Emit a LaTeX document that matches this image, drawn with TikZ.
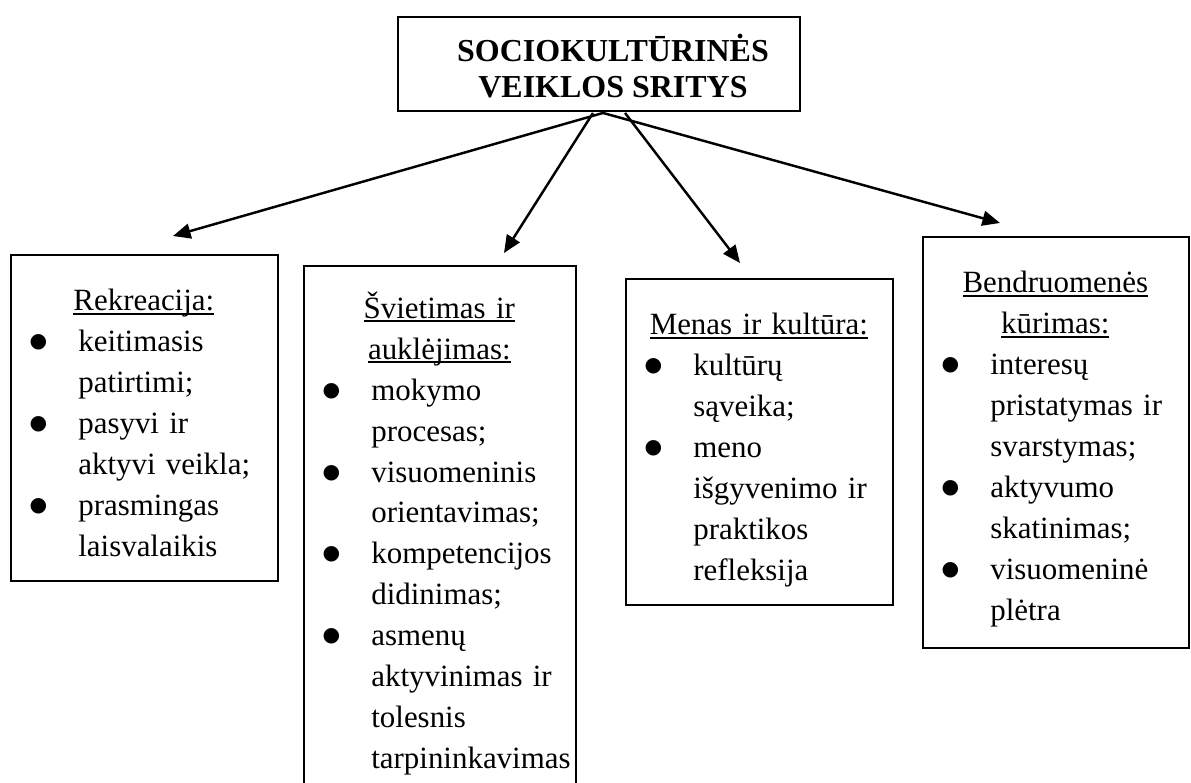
\documentclass[tikz,border=0pt]{standalone}
\usepackage{fontspec}
\setmainfont{Liberation Serif}
\newfontfamily\djv{DejaVu Sans}
\usetikzlibrary{arrows.meta}
\newlength\pxu \setlength\pxu{0.02cm}
\newcommand{\ulx}[1]{\setbox0\hbox{#1}\rlap{\rule[-4\pxu]{\wd0}{1.8\pxu}}\box0}
\newcommand{\bdot}{\raisebox{4\pxu}{\djv\fontsize{11.5pt}{11.5pt}\selectfont ●}}
\newcommand{\bl}[1]{\par\noindent\strut\makebox[68\pxu][l]{\hspace{28\pxu}\makebox[0pt][c]{\bdot}}\mbox{#1}}
\newcommand{\cl}[1]{\par\noindent\strut\hspace*{68\pxu}\mbox{#1}}
\newcommand{\hl}[1]{\par\noindent\strut\hfill\ulx{#1}\hfill\null}
\tikzset{
 frame/.style={draw, line width=1.1pt, anchor=north west, inner sep=0pt},
 body/.style={anchor=north west, inner sep=0pt, font=\fontsize{17.6pt}{23.3pt}\selectfont},
 conn/.style={line width=1.4pt, -{Triangle[length=10pt,width=8.5pt]}},
 titlebox/.style={draw, line width=1.1pt, inner sep=0pt},
 titletext/.style={font=\fontsize{18.2pt}{21pt}\selectfont\bfseries, align=center, inner sep=0pt},
}
\begin{document}
\begin{tikzpicture}[x=0.02cm,y=-0.02cm]
\useasboundingbox (0,0) rectangle (1191,783);
\node[titlebox, minimum width=8.04cm, minimum height=1.88cm] (top) at (599,64) {};
\node[titletext] (toptext) at (613,66) {SOCIOKULTŪRINĖS\\VEIKLOS SRITYS};

\node[frame, minimum width=5.34cm, minimum height=6.52cm] (b1) at (10,254) {};
\node[body, text width=5.34cm] (t1) at (10,269.3) {\hl{Rekreacija:}\bl{keitimasis}\cl{patirtimi;}\bl{pasyvi ir}\cl{aktyvi veikla;}\bl{prasmingas}\cl{laisvalaikis}};

\node[frame, minimum width=5.44cm, minimum height=10.8cm] (b2) at (303,265) {};
\node[body, text width=5.44cm] (t2) at (303,277) {\hl{Švietimas ir}\hl{auklėjimas:}\bl{mokymo}\cl{procesas;}\bl{visuomeninis}\cl{orientavimas;}\bl{kompetencijos}\cl{didinimas;}\bl{asmenų}\cl{aktyvinimas ir}\cl{tolesnis}\cl{tarpininkavimas}};

\node[frame, minimum width=5.34cm, minimum height=6.52cm] (b3) at (625,278) {};
\node[body, text width=5.34cm] (t3) at (625,293.3) {\hl{Menas ir kultūra:}\bl{kultūrų}\cl{sąveika;}\bl{meno}\cl{išgyvenimo ir}\cl{praktikos}\cl{refleksija}};

\node[frame, minimum width=5.32cm, minimum height=8.22cm] (b4) at (922,236) {};
\node[body, text width=5.32cm] (t4) at (922,251.3) {\hl{Bendruomenės}\hl{kūrimas:}\bl{interesų}\cl{pristatymas ir}\cl{svarstymas;}\bl{aktyvumo}\cl{skatinimas;}\bl{visuomeninė}\cl{plėtra}};

\path (top.south) ++(4,1) coordinate (s1);
\path (top.south) ++(-6,1) coordinate (s2);
\path (top.south) ++(26,1) coordinate (s3);
\coordinate (e1) at (173,236);
\coordinate (e2) at (504,253);
\coordinate (e3) at (740,263);
\coordinate (e4) at (1000,223);
\draw[conn] (s1) -- (e1);
\draw[conn] (s2) -- (e2);
\draw[conn] (s3) -- (e3);
\draw[conn] (s1) -- (e4);
\end{tikzpicture}
\end{document}
